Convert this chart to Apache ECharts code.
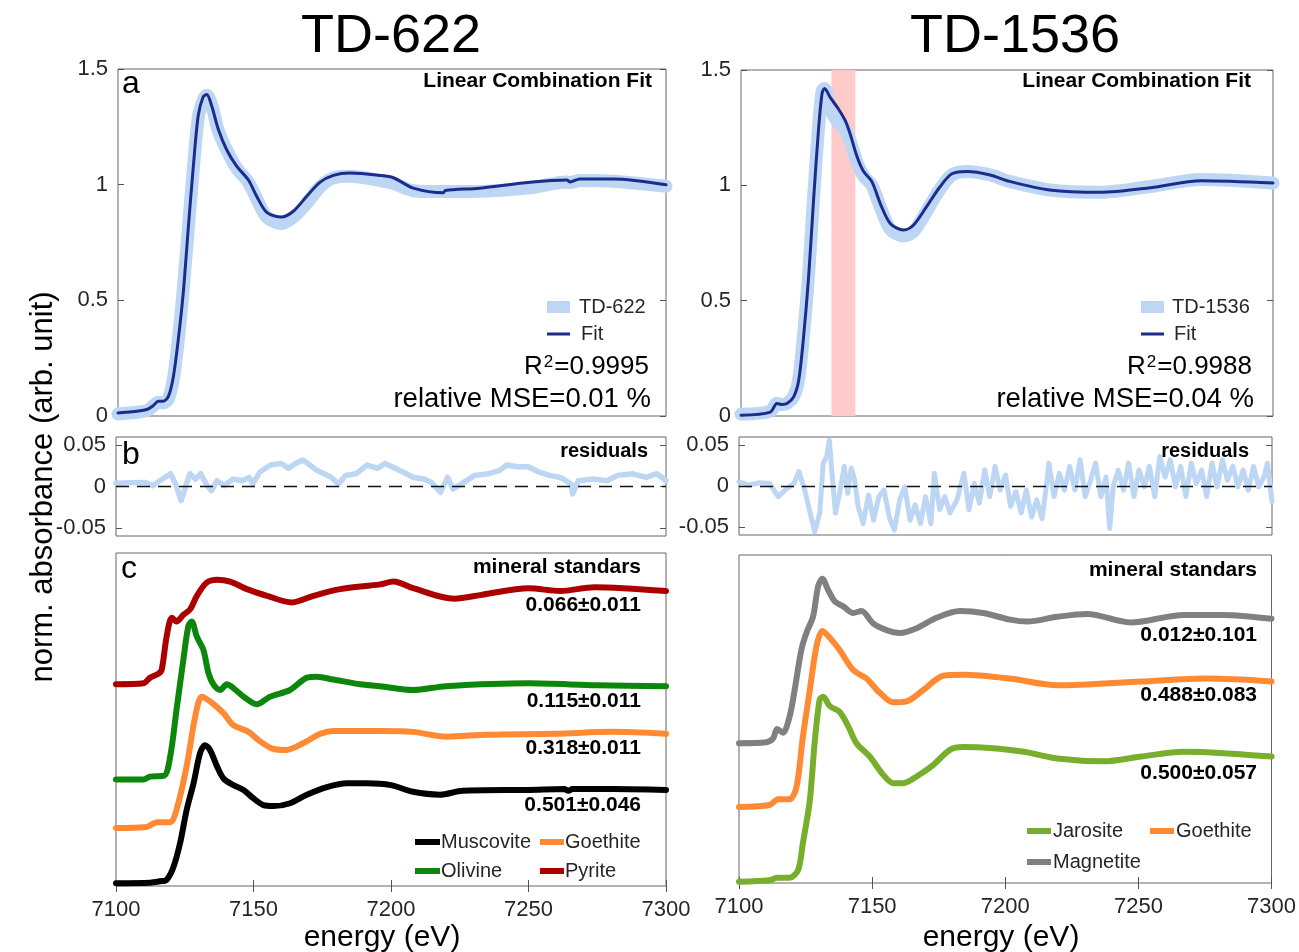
<!DOCTYPE html>
<html><head><meta charset="utf-8">
<script src="https://cdn.jsdelivr.net/npm/echarts@6/dist/echarts.min.js"></script>
<style>html,body{margin:0;padding:0;background:#fff}#chart{width:1299px;height:952px}</style>
</head><body><div id="chart"></div>
<script>
// ---------------- data ----------------
const sampleNames = ['TD-622', 'TD-1536'];
const energyTicks = [7100, 7150, 7200, 7250, 7300];
const absTicks = [0, 0.5, 1, 1.5];
const residTicks = [-0.05, 0, 0.05];
const highlightBand = [7134, 7143];

const td622Data = [[7100,0.009],[7105,0.014],[7110.5,0.023],[7112.9,0.044],[7114.7,0.059],[7116.5,0.057],[7118.4,0.075],[7120.2,0.16],[7122,0.328],[7123.8,0.547],[7125.7,0.817],[7127.5,1.07],[7129.3,1.29],[7131.1,1.365],[7132.4,1.387],[7134.2,1.345],[7136.6,1.233],[7139.7,1.149],[7143.3,1.071],[7147.6,1.01],[7150.6,0.94],[7154.3,0.86],[7159.7,0.832],[7164,0.86],[7168.9,0.92],[7173.7,0.99],[7178.6,1.029],[7184.7,1.036],[7195.6,1.018],[7200.5,1.006],[7207.8,0.974],[7218.7,0.97],[7219.5,0.97],[7232,0.971],[7250.4,0.986],[7263.8,1.012],[7265,1.009],[7268.6,1.018],[7280.8,1.015],[7300,0.993]];
const td622Fit = [[7100,0.013],[7105,0.018],[7110.5,0.028],[7112.9,0.045],[7114.7,0.064],[7116.5,0.064],[7118.4,0.085],[7120.2,0.17],[7122,0.33],[7123.8,0.53],[7125.7,0.82],[7127.5,1.08],[7129.3,1.30],[7131.1,1.38],[7132.4,1.39],[7134.2,1.34],[7136.6,1.24],[7139.7,1.15],[7143.3,1.08],[7147.6,1.02],[7150.6,0.95],[7154.3,0.88],[7159.7,0.86],[7164,0.885],[7168.9,0.95],[7173.7,1.01],[7178.6,1.04],[7184.7,1.05],[7195.6,1.04],[7200.5,1.03],[7207.8,0.985],[7218.7,0.965],[7219.5,0.975],[7232,0.985],[7250.4,1.01],[7263.8,1.02],[7265,1.012],[7268.6,1.025],[7280.8,1.025],[7300,1.00]];
const td622Resid = [[7100,0.004],[7105.5,0.0045],[7110.7,0.005],[7113.3,0.001],[7115.9,0.007],[7119.8,0.0155],[7121.7,0.003],[7123.7,-0.017],[7125.6,0.003],[7126.9,0.0155],[7128.9,0.009],[7130.8,0.0155],[7132.8,0.003],[7134.7,-0.005],[7136.7,0.007],[7139.3,0.001],[7142.5,0.009],[7145.8,0.007],[7148.4,0.011],[7149.7,0.003],[7152.3,0.0175],[7156.2,0.026],[7160.1,0.028],[7162.7,0.022],[7165.3,0.028],[7167.9,0.032],[7170.5,0.026],[7173.1,0.0195],[7175.7,0.0155],[7178.3,0.011],[7180.9,0.003],[7183.5,0.0135],[7187.4,0.0155],[7191.3,0.026],[7195.2,0.022],[7197.8,0.028],[7200.4,0.024],[7204.3,0.0175],[7208.2,0.011],[7212.1,0.009],[7214.7,0.005],[7218,-0.007],[7220.6,0.011],[7222.6,-0.003],[7226.5,0.005],[7230.4,0.0135],[7235.6,0.0155],[7239.5,0.0195],[7242.1,0.026],[7246,0.024],[7249.9,0.024],[7253.8,0.0175],[7257.7,0.0135],[7261.6,0.011],[7265.5,0.003],[7266.1,-0.009],[7268.1,0.007],[7273.3,0.009],[7278.5,0.007],[7282.4,0.0135],[7287.6,0.0155],[7292.8,0.011],[7296.7,0.0155],[7300,0.007]];

const td1536Data = [[7100,0.008],[7111,0.02],[7113.5,0.055],[7115.4,0.05],[7117.3,0.055],[7119.8,0.085],[7121.7,0.16],[7123.5,0.35],[7125.4,0.61],[7127.3,0.95],[7129.2,1.26],[7130.5,1.41],[7131.4,1.42],[7133.6,1.33],[7136.7,1.27],[7139.2,1.24],[7141.1,1.19],[7143.6,1.10],[7146.1,1.04],[7149.2,1.0],[7152.4,0.905],[7156.1,0.81],[7161.1,0.78],[7164.9,0.80],[7169.9,0.89],[7174.9,0.985],[7179.3,1.045],[7185,1.06],[7193.7,1.045],[7200,1.02],[7216,0.98],[7235,0.97],[7254,0.995],[7273,1.025],[7300,1.01]];
const td1536Fit = [[7100,0.003],[7111,0.017],[7113.5,0.054],[7115.4,0.05],[7117.3,0.054],[7119.8,0.083],[7121.7,0.155],[7123.5,0.34],[7125.4,0.60],[7127.3,0.94],[7129.2,1.25],[7130.5,1.40],[7131.4,1.42],[7133.6,1.38],[7136.7,1.33],[7139.2,1.28],[7141.1,1.22],[7143.6,1.125],[7146.1,1.06],[7149.2,1.016],[7152.4,0.92],[7156.1,0.835],[7161.1,0.806],[7164.9,0.828],[7169.9,0.91],[7174.9,0.995],[7179.3,1.05],[7185,1.06],[7193.7,1.045],[7200,1.02],[7216,0.98],[7235,0.97],[7254,0.99],[7273,1.02],[7300,1.01]];
const td1536Resid = [[7100,0.005],[7103.6,0.001],[7107.6,0.004],[7111.5,0.003],[7114.7,-0.013],[7118,-0.003],[7120.6,0.003],[7122.5,0.0175],[7124.5,-0.003],[7126.4,-0.029],[7128.4,-0.056],[7130.3,-0.033],[7131.6,0.028],[7132.9,0.036],[7133.9,0.056],[7134.9,0.0155],[7136.2,-0.033],[7137.5,-0.013],[7139.5,0.024],[7140.8,-0.009],[7142.1,0.022],[7143.4,0.007],[7144.7,-0.025],[7146.6,-0.046],[7148.6,-0.011],[7150.5,-0.042],[7152.5,-0.013],[7154.4,-0.005],[7156.4,-0.038],[7158.3,-0.054],[7160.3,-0.017],[7162.2,-0.001],[7164.2,-0.042],[7166.1,-0.023],[7168.1,-0.046],[7170,-0.013],[7172,-0.046],[7173.3,0.0155],[7175.3,-0.029],[7177.2,-0.013],[7179.2,-0.033],[7181.8,-0.017],[7184.4,0.0155],[7186.3,-0.029],[7188.3,0.003],[7190.2,-0.021],[7192.2,0.0195],[7194.1,-0.013],[7196.1,0.024],[7198,-0.005],[7200,0.0135],[7201.9,-0.025],[7203.9,-0.007],[7205.9,-0.033],[7207.8,-0.005],[7209.8,-0.038],[7211.7,-0.017],[7213.7,-0.04],[7215.6,0.007],[7216.3,0.028],[7218.2,-0.013],[7220.2,0.0155],[7222.1,-0.005],[7224.1,0.024],[7226,-0.005],[7228,0.032],[7229.9,-0.013],[7231.9,0.007],[7233.8,0.028],[7235.8,-0.013],[7237.7,0.011],[7239.1,-0.052],[7240.4,-0.001],[7242.3,0.0195],[7244.3,-0.005],[7246.2,0.028],[7248.2,-0.013],[7250.1,0.0195],[7252.1,-0.001],[7254,0.024],[7256,-0.013],[7257.9,0.036],[7259.9,0.011],[7261.8,0.032],[7263.8,-0.001],[7265.7,0.024],[7267.7,-0.013],[7269.7,0.028],[7271.6,0.003],[7273.6,0.0195],[7275.5,-0.013],[7277.5,0.028],[7279.4,-0.001],[7281.4,0.032],[7283.3,0.007],[7285.3,0.024],[7287.2,-0.001],[7289.2,0.0195],[7291.1,-0.005],[7293.1,0.024],[7295,-0.001],[7297,0.011],[7298.3,0.028],[7300,-0.019]];

// mineral standards, vertically offset as plotted (arbitrary units)
const muscovite = [[7100,0.03],[7112.4,0.035],[7116,0.05],[7118.4,0.065],[7120.9,0.20],[7123.3,0.45],[7125.7,0.80],[7128.2,1.08],[7130.6,1.40],[7132.4,1.48],[7134.2,1.43],[7136.7,1.26],[7139.1,1.13],[7142.7,1.06],[7146.4,1.01],[7150,0.92],[7153.6,0.85],[7157.3,0.84],[7163.3,0.87],[7169.4,0.96],[7176.7,1.04],[7184,1.08],[7191.3,1.08],[7200,1.06],[7208,0.99],[7217.7,0.96],[7226,1.0],[7250,1.01],[7263,1.02],[7264.5,1.0],[7266,1.02],[7281,1.02],[7300,1.01]];
const goethiteL = [[7100,0.61],[7111,0.62],[7115,0.67],[7119.7,0.67],[7122,0.80],[7125.7,1.26],[7128.8,1.78],[7131.2,1.99],[7134.2,1.94],[7139,1.82],[7142.7,1.69],[7148.2,1.62],[7152.4,1.52],[7157.3,1.44],[7162,1.43],[7168,1.50],[7174.3,1.60],[7179,1.63],[7196,1.63],[7208,1.62],[7220,1.57],[7235,1.59],[7260,1.60],[7280,1.62],[7300,1.60]];
const olivine = [[7100,1.12],[7110,1.12],[7112.4,1.15],[7117.5,1.16],[7119.7,1.36],[7122,1.85],[7124.5,2.38],[7126.3,2.73],[7127.5,2.78],[7129.4,2.62],[7131.8,2.48],[7133.6,2.24],[7135.4,2.12],[7137.9,2.06],[7140.3,2.12],[7142.7,2.08],[7146.4,1.99],[7151.2,1.91],[7156,1.99],[7163.3,2.06],[7169.4,2.19],[7173,2.20],[7179,2.17],[7188.8,2.12],[7196,2.10],[7208,2.06],[7220,2.10],[7250,2.13],[7275,2.11],[7300,2.10]];
const pyrite = [[7100,2.12],[7110,2.13],[7112.4,2.19],[7115.4,2.23],[7116.6,2.27],[7118.4,2.62],[7120.3,2.82],[7122,2.78],[7124.5,2.85],[7127,2.91],[7129.4,3.05],[7133,3.19],[7136.7,3.22],[7141.5,3.20],[7147.6,3.12],[7154.9,3.05],[7164,2.98],[7171.8,3.05],[7181.5,3.12],[7196,3.17],[7201,3.20],[7208,3.13],[7223,3.02],[7233,3.06],[7250,3.13],[7261.5,3.10],[7274,3.14],[7300,3.10]];
const jarosite = [[7100,0.014],[7111.5,0.03],[7114.3,0.056],[7119,0.056],[7122.2,0.137],[7124,0.42],[7126.6,0.87],[7128.4,1.47],[7130.3,1.93],[7131.6,1.96],[7134.1,1.86],[7137.8,1.80],[7141,1.65],[7144.1,1.47],[7149.1,1.33],[7154.1,1.14],[7157.9,1.05],[7161.7,1.05],[7166.7,1.12],[7172.9,1.24],[7179.2,1.40],[7184.2,1.43],[7194.2,1.42],[7207,1.38],[7219.5,1.31],[7237,1.28],[7251,1.33],[7267,1.38],[7282,1.365],[7300,1.33]];
const goethiteR = [[7100,0.80],[7111.5,0.82],[7114.7,0.88],[7119,0.88],[7121.6,1.01],[7124,1.54],[7126.6,2.03],[7129.1,2.49],[7131.3,2.65],[7134.1,2.58],[7137.8,2.45],[7142.9,2.24],[7147.9,2.15],[7152.9,2.00],[7157.9,1.90],[7162.9,1.91],[7169.2,2.03],[7176.7,2.18],[7184.2,2.19],[7201.8,2.15],[7219.5,2.08],[7251,2.12],[7276,2.15],[7300,2.12]];
const magnetite = [[7100,1.47],[7110.3,1.48],[7112.8,1.52],[7114.3,1.62],[7116.5,1.58],[7119,1.75],[7120.9,2.03],[7123.4,2.45],[7125.3,2.63],[7127.8,2.80],[7129.7,3.12],[7131.3,3.20],[7133.5,3.08],[7136,2.96],[7139.1,2.91],[7142.9,2.84],[7146,2.86],[7150.4,2.73],[7155.4,2.66],[7160.4,2.63],[7166.7,2.68],[7174.2,2.79],[7183,2.86],[7191.7,2.84],[7201.8,2.77],[7208.3,2.75],[7219.5,2.80],[7230.8,2.83],[7247,2.74],[7267,2.82],[7282,2.82],[7300,2.78]];

const fractions622 = ['0.066\u00b10.011', '0.115\u00b10.011', '0.318\u00b10.011', '0.501\u00b10.046'];
const fractions1536 = ['0.012\u00b10.101', '0.488\u00b10.083', '0.500\u00b10.057'];
const stats622 = ['0.9995', '0.01'];
const stats1536 = ['0.9988', '0.04'];

// ---------------- styling / layout ----------------
const FONT = "'Liberation Sans', Arial, Helvetica, sans-serif";
const C = {data:'#bcd6f3', fit:'#1b2c8c', black:'#000000', orange:'#ff8a33', olive:'#0c870c',
           red:'#ac0000', jaro:'#77ae2c', gray:'#808080', band:'#ffcaca', txt:'#262626'};

const grids = [
  {left:118, top:69,  width:548, height:347},
  {left:116, top:437, width:550, height:99},
  {left:116, top:553, width:550, height:333},
  {left:741, top:70,  width:532, height:346},
  {left:739, top:437, width:533, height:98},
  {left:739, top:555, width:533, height:328}
].map(g => Object.assign(g, {show:true, borderColor:'#666666', borderWidth:1, backgroundColor:'transparent'}));

function mkX(gi, pos, labels, ticks) {
  return {type:'value', gridIndex:gi, position:pos, min:energyTicks[0], max:energyTicks[energyTicks.length-1],
    interval:energyTicks[1]-energyTicks[0],
    axisLine:{show:false}, splitLine:{show:false},
    axisTick:{show:ticks, inside:true, length:6, lineStyle:{color:'#555', width:1}},
    axisLabel:{show:labels, fontSize:22, color:C.txt, fontFamily:FONT, margin:13, formatter:v => String(v)}};
}
function mkY(gi, pos, kind, max) {
  const ax = {type:'value', gridIndex:gi, position:pos, axisLine:{show:false}, splitLine:{show:false},
    axisTick:{show:true, inside:true, length:6, lineStyle:{color:'#555', width:1}},
    axisLabel:{show:pos==='left', fontSize:22, color:C.txt, fontFamily:FONT, margin:10}};
  if (kind==='abs') { ax.min=absTicks[0]; ax.max=absTicks[absTicks.length-1]; ax.interval=absTicks[1]-absTicks[0]; }
  else if (kind==='res') { ax.min=-0.06; ax.max=0.06; ax.axisLabel.customValues=residTicks; ax.axisTick.customValues=residTicks; }
  else { ax.min=0; ax.max=max; ax.axisTick.show=false; ax.axisLabel.show=false; }
  return ax;
}

const xAxis = [], yAxis = [];
const kinds = [['abs'],['res'],['std',3.5],['abs'],['res'],['std',3.45]];
kinds.forEach((k, gi) => {
  const isStd = k[0]==='std';
  xAxis.push(mkX(gi,'bottom',isStd,isStd));
  xAxis.push(mkX(gi,'top',false,isStd));
  yAxis.push(mkY(gi,'left',k[0],k[1]));
  yAxis.push(mkY(gi,'right',k[0],k[1]));
});

function line(name, data, gi, color, width, z, extra) {
  return Object.assign({type:'line', name, data, xAxisIndex:2*gi, yAxisIndex:2*gi, showSymbol:false, symbol:'none',
    z, lineStyle:{color, width, cap:'round', join:'round'}, itemStyle:{color}, emphasis:{disabled:true},
    animation:false, silent:true}, extra||{});
}
const zeroLine = {silent:true, symbol:['none','none'], label:{show:false},
  lineStyle:{color:'#111', type:[13,8], width:1.4}, data:[{yAxis:0}], animation:false};

const series = [
  line('TD-622', td622Data, 0, C.data, 13, 2, {smooth:0.3}),
  line('Fit', td622Fit, 0, C.fit, 3, 3, {smooth:0.3}),
  line('res622', td622Resid, 1, C.data, 5.5, 2, {markLine:zeroLine}),
  line('Pyrite', pyrite, 2, C.red, 6, 2, {smooth:0.3}),
  line('Olivine', olivine, 2, C.olive, 6, 2, {smooth:0.3}),
  line('Goethite', goethiteL, 2, C.orange, 6, 2, {smooth:0.3}),
  line('Muscovite', muscovite, 2, C.black, 6, 3, {smooth:0.3}),
  line('band', [], 3, C.band, 0, 1, {markArea:{silent:true, itemStyle:{color:C.band, opacity:1},
      data:[[{xAxis:highlightBand[0]},{xAxis:highlightBand[1]}]], animation:false}}),
  line('TD-1536', td1536Data, 3, C.data, 13, 2, {smooth:0.3}),
  line('Fit', td1536Fit, 3, C.fit, 3, 3, {smooth:0.3}),
  line('res1536', td1536Resid, 4, C.data, 5, 2, {markLine:zeroLine}),
  line('Magnetite', magnetite, 5, C.gray, 6, 2, {smooth:0.3}),
  line('Goethite', goethiteR, 5, C.orange, 6, 2, {smooth:0.3}),
  line('Jarosite', jarosite, 5, C.jaro, 6, 3, {smooth:0.3})
];

function lg(name, left, cy, w, h, pad) {
  return {data:[name], left, top:cy-11, padding:0, icon:'rect', itemWidth:w, itemHeight:h, selectedMode:false,
    textStyle:{fontSize:20, color:C.txt, fontFamily:FONT, padding:[0,0,0,pad]}};
}
const legend = [
  lg('TD-622', 547, 308, 23, 12, 4), lg('Fit', 547, 335, 23, 3, 6),
  lg('TD-1536', 1141, 308, 23, 12, 3), lg('Fit', 1141, 335, 23, 3, 5),
  lg('Muscovite', 415, 843, 25, 6, -4), lg('Goethite', 540, 843, 24, 6, -4),
  lg('Olivine', 415, 872, 25, 6, -4), lg('Pyrite', 540, 872, 24, 6, -4),
  lg('Jarosite', 1027, 832, 24, 6, -3), lg('Goethite', 1150, 832, 24, 6, -3),
  lg('Magnetite', 1027, 863, 24, 6, -3)
];

function txt(text, x, y, size, opts) {
  const o = Object.assign({align:'left', weight:'normal', color:'#000', rotation:0, rich:null}, opts||{});
  const style = {text, fontSize:size, fontFamily:FONT, fontWeight:o.weight, fill:o.color,
    align:o.align, verticalAlign:'middle', textAlign:o.align, textVerticalAlign:'middle'};
  if (o.rich) style.rich = o.rich;
  return {type:'text', x, y, rotation:o.rotation, silent:true, z:100, style};
}
const supRich = {sup:{fontSize:17, fontFamily:FONT, fill:'#000', verticalAlign:'top', padding:[0,1,8,1]}};
const B = {align:'right', weight:'bold'};
const graphic = [
  txt(sampleNames[0], 391, 37, 54, {align:'center'}),
  txt(sampleNames[1], 1015, 37, 54, {align:'center'}),
  txt('a', 122, 84, 32), txt('b', 122, 455, 32), txt('c', 121, 569, 32),
  txt('Linear Combination Fit', 652, 81, 21, B),
  txt('Linear Combination Fit', 1251, 81, 21, B),
  txt('R{sup|2}=' + stats622[0], 649, 367, 26, {align:'right', rich:supRich}),
  txt('relative MSE=' + stats622[1] + ' %', 651, 399, 27.5, {align:'right'}),
  txt('R{sup|2}=' + stats1536[0], 1252, 367, 26, {align:'right', rich:supRich}),
  txt('relative MSE=' + stats1536[1] + ' %', 1254, 399, 27.5, {align:'right'}),
  txt('residuals', 648, 451, 20, B),
  txt('residuals', 1249, 451, 20, B),
  txt('mineral standars', 641, 567, 21, B),
  txt('mineral standars', 1257, 570, 21, B),
  txt(fractions622[0], 641, 605, 21, B),
  txt(fractions622[1], 641, 701, 21, B),
  txt(fractions622[2], 641, 748, 21, B),
  txt(fractions622[3], 641, 805, 21, B),
  txt(fractions1536[0], 1257, 635, 21, B),
  txt(fractions1536[1], 1257, 695, 21, B),
  txt(fractions1536[2], 1257, 773, 21, B),
  txt('norm. absorbance (arb. unit)', 43, 487, 31, {align:'center', rotation:Math.PI/2}),
  txt('energy (eV)', 382, 938, 30, {align:'center'}),
  txt('energy (eV)', 1001, 938, 30, {align:'center'})
];

const chart = echarts.init(document.getElementById('chart'), null, {renderer:'canvas'});
chart.setOption({backgroundColor:'#ffffff', animation:false, grid:grids, xAxis, yAxis, series, legend, graphic});
</script></body></html>
